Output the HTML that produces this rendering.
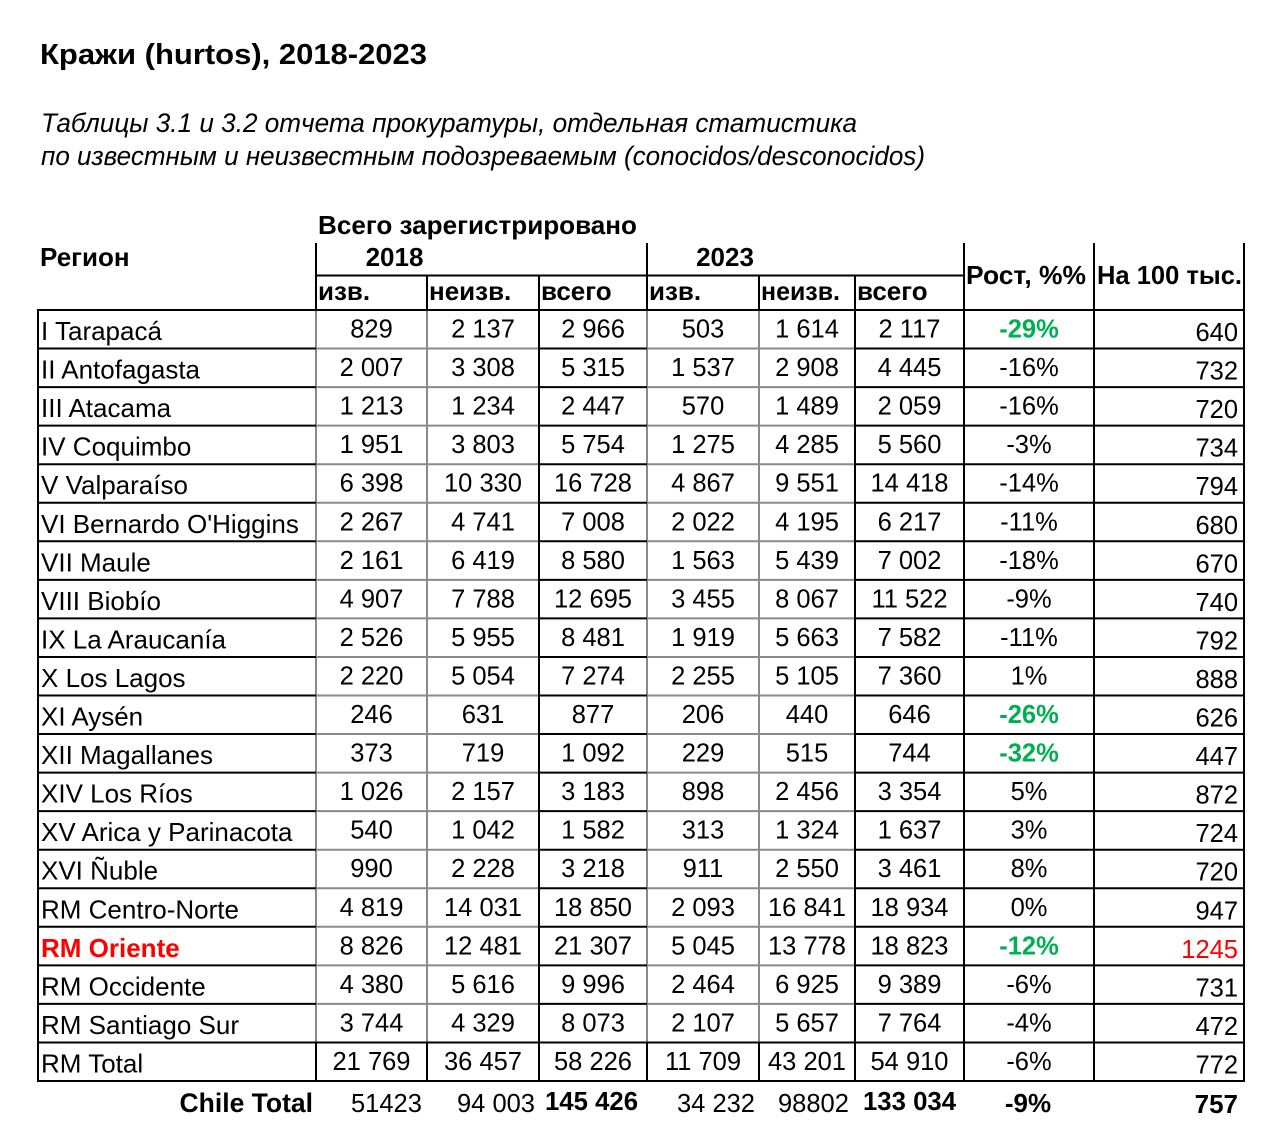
<!DOCTYPE html>
<html>
<head>
<meta charset="utf-8">
<style>
  html, body { margin:0; padding:0; background:#fff; }
  body { width:1276px; height:1146px; overflow:hidden; }
  svg { display:block; }
  text { font-family: "Liberation Sans", "DejaVu Sans", sans-serif; fill:#000; }
  .n { font-size:25.5px; text-anchor:middle; }
  .r { font-size:26px; }
  .p { font-size:25.5px; text-anchor:end; }
  .h { font-size:26px; font-weight:bold; }
  .g { fill:#00b050; font-weight:bold; }
  .red { fill:#ff0000; }
</style>
</head>
<body>
<svg width="1276" height="1146" viewBox="0 0 1276 1146" xmlns="http://www.w3.org/2000/svg">
  <rect width="1276" height="1146" fill="#fff"/>

  <!-- Title -->
  <text x="40" y="64" font-size="28.5" font-weight="bold" textLength="387" lengthAdjust="spacingAndGlyphs">Кражи (hurtos), 2018-2023</text>
  <text x="41" y="132" font-size="26.5" font-style="italic" textLength="816" lengthAdjust="spacingAndGlyphs">Таблицы 3.1 и 3.2 отчета прокуратуры, отдельная статистика</text>
  <text x="41" y="165" font-size="26.5" font-style="italic" textLength="884" lengthAdjust="spacingAndGlyphs">по известным и неизвестным подозреваемым (conocidos/desconocidos)</text>

  <!-- Header text -->
  <text class="h" x="40" y="266">Регион</text>
  <text class="h" x="318" y="234" textLength="319" lengthAdjust="spacingAndGlyphs">Всего зарегистрировано</text>
  <text class="h" x="394.5" y="266" text-anchor="middle">2018</text>
  <text class="h" x="725" y="266" text-anchor="middle">2023</text>
  <text class="h" x="318" y="300">изв.</text>
  <text class="h" x="429" y="300">неизв.</text>
  <text class="h" x="541" y="300">всего</text>
  <text class="h" x="649" y="300">изв.</text>
  <text class="h" x="761" y="300" textLength="79" lengthAdjust="spacingAndGlyphs">неизв.</text>
  <text class="h" x="857" y="300">всего</text>
  <text class="h" x="966" y="284" textLength="120" lengthAdjust="spacingAndGlyphs">Рост, %%</text>
  <text class="h" x="1097" y="284" textLength="145" lengthAdjust="spacingAndGlyphs">На 100 тыс.</text>

  <!-- Gray grid lines -->
  <g stroke="#8a8a8a" stroke-width="2" fill="none">
    <path d="M316 310V1042.45 M427 310V1042.45 M647 310V1042.45 M759 310V1042.45"/>
    <path d="M316 348.55H539 M647 348.55H855
             M316 387.1H539 M647 387.1H855
             M316 425.65H539 M647 425.65H855
             M316 464.2H539 M647 464.2H855
             M316 502.75H539 M647 502.75H855
             M316 541.3H539 M647 541.3H855
             M316 579.85H539 M647 579.85H855
             M316 618.4H539 M647 618.4H855
             M316 656.95H539 M647 656.95H855
             M316 695.5H539 M647 695.5H855
             M316 734.05H539 M647 734.05H855
             M316 772.6H539 M647 772.6H855
             M316 811.15H539 M647 811.15H855
             M316 849.7H539 M647 849.7H855
             M316 888.25H539 M647 888.25H855
             M316 926.8H539 M647 926.8H855
             M316 965.35H539 M647 965.35H855
             M316 1003.9H539 M647 1003.9H855"/>
  </g>

  <!-- Black grid lines -->
  <g stroke="#000" stroke-width="2" fill="none">
    <path d="M316 243V310 M647 243V310 M427 275V310 M759 275V310 M316 275.5H964"/>
    <path d="M964 243V1082 M1094 243V1082 M1244 243V1082 M539 275V1082 M855 275V1082 M38 309V1082"/>
    <path d="M37 310H1245"/>
    <path d="M316 1042.45V1081 M427 1042.45V1081 M647 1042.45V1081 M759 1042.45V1081"/>
    <path d="M38 348.55H316 M539 348.55H647 M855 348.55H1244
             M38 387.1H316 M539 387.1H647 M855 387.1H1244
             M38 425.65H316 M539 425.65H647 M855 425.65H1244
             M38 464.2H316 M539 464.2H647 M855 464.2H1244
             M38 502.75H316 M539 502.75H647 M855 502.75H1244
             M38 541.3H316 M539 541.3H647 M855 541.3H1244
             M38 579.85H316 M539 579.85H647 M855 579.85H1244
             M38 618.4H316 M539 618.4H647 M855 618.4H1244
             M38 656.95H316 M539 656.95H647 M855 656.95H1244
             M38 695.5H316 M539 695.5H647 M855 695.5H1244
             M38 734.05H316 M539 734.05H647 M855 734.05H1244
             M38 772.6H316 M539 772.6H647 M855 772.6H1244
             M38 811.15H316 M539 811.15H647 M855 811.15H1244
             M38 849.7H316 M539 849.7H647 M855 849.7H1244
             M38 888.25H316 M539 888.25H647 M855 888.25H1244
             M38 926.8H316 M539 926.8H647 M855 926.8H1244
             M38 965.35H316 M539 965.35H647 M855 965.35H1244
             M38 1003.9H316 M539 1003.9H647 M855 1003.9H1244
             M37 1042.45H1245
             M37 1081H1245"/>
  </g>

  <!-- Data rows -->
  <g transform="translate(0,310)">
    <text class="r" x="41" y="30">I Tarapacá</text>
    <text class="n" x="371.5" y="27.5">829</text><text class="n" x="483" y="27.5">2 137</text><text class="n" x="593" y="27.5">2 966</text>
    <text class="n" x="703" y="27.5">503</text><text class="n" x="807" y="27.5">1 614</text><text class="n" x="909.5" y="27.5">2 117</text>
    <text class="n g" x="1029" y="27.5">-29%</text><text class="p" x="1238" y="31">640</text>
  </g>
  <g transform="translate(0,348.55)">
    <text class="r" x="41" y="30">II Antofagasta</text>
    <text class="n" x="371.5" y="27.5">2 007</text><text class="n" x="483" y="27.5">3 308</text><text class="n" x="593" y="27.5">5 315</text>
    <text class="n" x="703" y="27.5">1 537</text><text class="n" x="807" y="27.5">2 908</text><text class="n" x="909.5" y="27.5">4 445</text>
    <text class="n" x="1029" y="27.5">-16%</text><text class="p" x="1238" y="31">732</text>
  </g>
  <g transform="translate(0,387.1)">
    <text class="r" x="41" y="30">III Atacama</text>
    <text class="n" x="371.5" y="27.5">1 213</text><text class="n" x="483" y="27.5">1 234</text><text class="n" x="593" y="27.5">2 447</text>
    <text class="n" x="703" y="27.5">570</text><text class="n" x="807" y="27.5">1 489</text><text class="n" x="909.5" y="27.5">2 059</text>
    <text class="n" x="1029" y="27.5">-16%</text><text class="p" x="1238" y="31">720</text>
  </g>
  <g transform="translate(0,425.65)">
    <text class="r" x="41" y="30">IV Coquimbo</text>
    <text class="n" x="371.5" y="27.5">1 951</text><text class="n" x="483" y="27.5">3 803</text><text class="n" x="593" y="27.5">5 754</text>
    <text class="n" x="703" y="27.5">1 275</text><text class="n" x="807" y="27.5">4 285</text><text class="n" x="909.5" y="27.5">5 560</text>
    <text class="n" x="1029" y="27.5">-3%</text><text class="p" x="1238" y="31">734</text>
  </g>
  <g transform="translate(0,464.2)">
    <text class="r" x="41" y="30">V Valparaíso</text>
    <text class="n" x="371.5" y="27.5">6 398</text><text class="n" x="483" y="27.5">10 330</text><text class="n" x="593" y="27.5">16 728</text>
    <text class="n" x="703" y="27.5">4 867</text><text class="n" x="807" y="27.5">9 551</text><text class="n" x="909.5" y="27.5">14 418</text>
    <text class="n" x="1029" y="27.5">-14%</text><text class="p" x="1238" y="31">794</text>
  </g>
  <g transform="translate(0,502.75)">
    <text class="r" x="41" y="30">VI Bernardo O'Higgins</text>
    <text class="n" x="371.5" y="27.5">2 267</text><text class="n" x="483" y="27.5">4 741</text><text class="n" x="593" y="27.5">7 008</text>
    <text class="n" x="703" y="27.5">2 022</text><text class="n" x="807" y="27.5">4 195</text><text class="n" x="909.5" y="27.5">6 217</text>
    <text class="n" x="1029" y="27.5">-11%</text><text class="p" x="1238" y="31">680</text>
  </g>
  <g transform="translate(0,541.3)">
    <text class="r" x="41" y="30">VII Maule</text>
    <text class="n" x="371.5" y="27.5">2 161</text><text class="n" x="483" y="27.5">6 419</text><text class="n" x="593" y="27.5">8 580</text>
    <text class="n" x="703" y="27.5">1 563</text><text class="n" x="807" y="27.5">5 439</text><text class="n" x="909.5" y="27.5">7 002</text>
    <text class="n" x="1029" y="27.5">-18%</text><text class="p" x="1238" y="31">670</text>
  </g>
  <g transform="translate(0,579.85)">
    <text class="r" x="41" y="30">VIII Biobío</text>
    <text class="n" x="371.5" y="27.5">4 907</text><text class="n" x="483" y="27.5">7 788</text><text class="n" x="593" y="27.5">12 695</text>
    <text class="n" x="703" y="27.5">3 455</text><text class="n" x="807" y="27.5">8 067</text><text class="n" x="909.5" y="27.5">11 522</text>
    <text class="n" x="1029" y="27.5">-9%</text><text class="p" x="1238" y="31">740</text>
  </g>
  <g transform="translate(0,618.4)">
    <text class="r" x="41" y="30">IX La Araucanía</text>
    <text class="n" x="371.5" y="27.5">2 526</text><text class="n" x="483" y="27.5">5 955</text><text class="n" x="593" y="27.5">8 481</text>
    <text class="n" x="703" y="27.5">1 919</text><text class="n" x="807" y="27.5">5 663</text><text class="n" x="909.5" y="27.5">7 582</text>
    <text class="n" x="1029" y="27.5">-11%</text><text class="p" x="1238" y="31">792</text>
  </g>
  <g transform="translate(0,656.95)">
    <text class="r" x="41" y="30">X Los Lagos</text>
    <text class="n" x="371.5" y="27.5">2 220</text><text class="n" x="483" y="27.5">5 054</text><text class="n" x="593" y="27.5">7 274</text>
    <text class="n" x="703" y="27.5">2 255</text><text class="n" x="807" y="27.5">5 105</text><text class="n" x="909.5" y="27.5">7 360</text>
    <text class="n" x="1029" y="27.5">1%</text><text class="p" x="1238" y="31">888</text>
  </g>
  <g transform="translate(0,695.5)">
    <text class="r" x="41" y="30">XI Aysén</text>
    <text class="n" x="371.5" y="27.5">246</text><text class="n" x="483" y="27.5">631</text><text class="n" x="593" y="27.5">877</text>
    <text class="n" x="703" y="27.5">206</text><text class="n" x="807" y="27.5">440</text><text class="n" x="909.5" y="27.5">646</text>
    <text class="n g" x="1029" y="27.5">-26%</text><text class="p" x="1238" y="31">626</text>
  </g>
  <g transform="translate(0,734.05)">
    <text class="r" x="41" y="30">XII Magallanes</text>
    <text class="n" x="371.5" y="27.5">373</text><text class="n" x="483" y="27.5">719</text><text class="n" x="593" y="27.5">1 092</text>
    <text class="n" x="703" y="27.5">229</text><text class="n" x="807" y="27.5">515</text><text class="n" x="909.5" y="27.5">744</text>
    <text class="n g" x="1029" y="27.5">-32%</text><text class="p" x="1238" y="31">447</text>
  </g>
  <g transform="translate(0,772.6)">
    <text class="r" x="41" y="30">XIV Los Ríos</text>
    <text class="n" x="371.5" y="27.5">1 026</text><text class="n" x="483" y="27.5">2 157</text><text class="n" x="593" y="27.5">3 183</text>
    <text class="n" x="703" y="27.5">898</text><text class="n" x="807" y="27.5">2 456</text><text class="n" x="909.5" y="27.5">3 354</text>
    <text class="n" x="1029" y="27.5">5%</text><text class="p" x="1238" y="31">872</text>
  </g>
  <g transform="translate(0,811.15)">
    <text class="r" x="41" y="30">XV Arica y Parinacota</text>
    <text class="n" x="371.5" y="27.5">540</text><text class="n" x="483" y="27.5">1 042</text><text class="n" x="593" y="27.5">1 582</text>
    <text class="n" x="703" y="27.5">313</text><text class="n" x="807" y="27.5">1 324</text><text class="n" x="909.5" y="27.5">1 637</text>
    <text class="n" x="1029" y="27.5">3%</text><text class="p" x="1238" y="31">724</text>
  </g>
  <g transform="translate(0,849.7)">
    <text class="r" x="41" y="30">XVI Ñuble</text>
    <text class="n" x="371.5" y="27.5">990</text><text class="n" x="483" y="27.5">2 228</text><text class="n" x="593" y="27.5">3 218</text>
    <text class="n" x="703" y="27.5">911</text><text class="n" x="807" y="27.5">2 550</text><text class="n" x="909.5" y="27.5">3 461</text>
    <text class="n" x="1029" y="27.5">8%</text><text class="p" x="1238" y="31">720</text>
  </g>
  <g transform="translate(0,888.25)">
    <text class="r" x="41" y="30">RM Centro-Norte</text>
    <text class="n" x="371.5" y="27.5">4 819</text><text class="n" x="483" y="27.5">14 031</text><text class="n" x="593" y="27.5">18 850</text>
    <text class="n" x="703" y="27.5">2 093</text><text class="n" x="807" y="27.5">16 841</text><text class="n" x="909.5" y="27.5">18 934</text>
    <text class="n" x="1029" y="27.5">0%</text><text class="p" x="1238" y="31">947</text>
  </g>
  <g transform="translate(0,926.8)">
    <text class="r red" x="41" y="30" font-weight="bold">RM Oriente</text>
    <text class="n" x="371.5" y="27.5">8 826</text><text class="n" x="483" y="27.5">12 481</text><text class="n" x="593" y="27.5">21 307</text>
    <text class="n" x="703" y="27.5">5 045</text><text class="n" x="807" y="27.5">13 778</text><text class="n" x="909.5" y="27.5">18 823</text>
    <text class="n g" x="1029" y="27.5">-12%</text><text class="p red" x="1238" y="31">1245</text>
  </g>
  <g transform="translate(0,965.35)">
    <text class="r" x="41" y="30">RM Occidente</text>
    <text class="n" x="371.5" y="27.5">4 380</text><text class="n" x="483" y="27.5">5 616</text><text class="n" x="593" y="27.5">9 996</text>
    <text class="n" x="703" y="27.5">2 464</text><text class="n" x="807" y="27.5">6 925</text><text class="n" x="909.5" y="27.5">9 389</text>
    <text class="n" x="1029" y="27.5">-6%</text><text class="p" x="1238" y="31">731</text>
  </g>
  <g transform="translate(0,1003.9)">
    <text class="r" x="41" y="30">RM Santiago Sur</text>
    <text class="n" x="371.5" y="27.5">3 744</text><text class="n" x="483" y="27.5">4 329</text><text class="n" x="593" y="27.5">8 073</text>
    <text class="n" x="703" y="27.5">2 107</text><text class="n" x="807" y="27.5">5 657</text><text class="n" x="909.5" y="27.5">7 764</text>
    <text class="n" x="1029" y="27.5">-4%</text><text class="p" x="1238" y="31">472</text>
  </g>
  <g transform="translate(0,1042.45)">
    <text class="r" x="41" y="30">RM Total</text>
    <text class="n" x="371.5" y="27.5">21 769</text><text class="n" x="483" y="27.5">36 457</text><text class="n" x="593" y="27.5">58 226</text>
    <text class="n" x="703" y="27.5">11 709</text><text class="n" x="807" y="27.5">43 201</text><text class="n" x="909.5" y="27.5">54 910</text>
    <text class="n" x="1029" y="27.5">-6%</text><text class="p" x="1238" y="31">772</text>
  </g>

  <!-- Chile Total -->
  <text x="313" y="1112" font-size="26.5" font-weight="bold" text-anchor="end">Chile Total</text>
  <text x="351" y="1112" font-size="25.5">51423</text>
  <text x="457" y="1112" font-size="25.5">94 003</text>
  <text x="545" y="1110" font-size="26" font-weight="bold" textLength="93" lengthAdjust="spacingAndGlyphs">145 426</text>
  <text x="677" y="1112" font-size="25.5">34 232</text>
  <text x="778" y="1112" font-size="25.5">98802</text>
  <text x="863" y="1110" font-size="26" font-weight="bold" textLength="93" lengthAdjust="spacingAndGlyphs">133 034</text>
  <text x="1028" y="1112" font-size="26" font-weight="bold" text-anchor="middle">-9%</text>
  <text x="1238" y="1113" font-size="26" font-weight="bold" text-anchor="end">757</text>
</svg>
</body>
</html>
